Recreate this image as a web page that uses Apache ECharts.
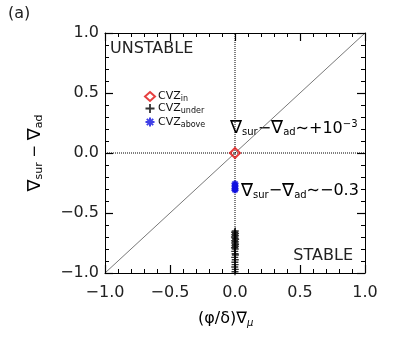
<!DOCTYPE html>
<html>
<head>
<meta charset="utf-8">
<script src="https://cdn.jsdelivr.net/npm/echarts@6/dist/echarts.min.js"></script>
<style>
html, body { margin: 0; padding: 0; background: #fff; }
#main { width: 396px; height: 340px; }
</style>
</head>
<body>
<div id="main"></div>
<script>
// axis ticks
const tickMin = -1.0
const tickMax = 1.0
const tickStep = 0.5

// CVZ_in : single point at the origin
const inX = [0.0]
const inY = [0.0]

// CVZ_under : stack of points just below the origin
const underX = [0.002, -0.003, 0.004, -0.002, 0.003, -0.004, 0.001, 0.005, -0.003, 0.002, -0.002, 0.004, -0.001, 0.003, -0.004, 0.002, -0.002, 0.001, 0.003, -0.002, 0.002, -0.001, 0.001, -0.002, 0.002, 0.0]
const underY = [-0.65, -0.66, -0.67, -0.68, -0.69, -0.70, -0.71, -0.72, -0.73, -0.74, -0.75, -0.76, -0.77, -0.78, -0.79, -0.80, -0.82, -0.84, -0.85, -0.87, -0.89, -0.91, -0.93, -0.95, -0.97, -0.99]

// CVZ_above : small cluster near -0.3
const aboveX = [-0.005, 0.005, -0.005, 0.005, -0.005, 0.005, -0.005, 0.005, 0.0, 0.0, 0.0]
const aboveY = [-0.255, -0.255, -0.275, -0.275, -0.295, -0.295, -0.31, -0.31, -0.265, -0.285, -0.305]

// reference lines
const diagX = [-1, 1]
const diagY = [-1, 1]

const zip = (xs, ys) => xs.map((x, i) => [x, ys[i]])

const font = 'DejaVu Sans'
const fmt = v => v.toFixed(1).replace('-', '\u2212')

const plusPath = 'path://M4,0h2v10h-2z M0,4h10v2h-10z'
const starPath = 'path://M5,0L5,10M0,5L10,5M1.5,1.5L8.5,8.5M8.5,1.5L1.5,8.5'

function axis (pos, showLabel) {
    return {
        type: 'value',
        position: pos,
        min: tickMin,
        max: tickMax,
        interval: tickStep,
        z: 10,
        axisLine: { show: true, onZero: false, lineStyle: { color: '#000', width: 1, type: 'solid' } },
        axisTick: { show: true, inside: true, length: 8, lineStyle: { color: '#000', width: 1.2, type: 'solid' } },
        minorTick: { show: true, splitNumber: 5, length: 4, lineStyle: { color: '#000', width: 1, type: 'solid' } },
        splitLine: { show: false },
        axisLabel: {
            show: showLabel,
            formatter: fmt,
            fontFamily: font,
            fontSize: 16,
            color: '#222',
            margin: (pos === 'bottom') ? 12 : 6
        }
    }
}

const labRich = {
    n: { fontFamily: font, fontSize: 18, color: '#111' },
    t: { fontFamily: font, fontSize: 16, color: '#111' },
    s: { fontFamily: font, fontSize: 10, color: '#111', padding: [8, 0, 0, 0] },
    p: { fontFamily: font, fontSize: 10, color: '#111', padding: [0, 0, 9, 0] }
}

const legRich = {
    s: { fontFamily: font, fontSize: 8, color: '#111', padding: [5, 0, 0, 0] }
}

const legendNames = { in: 'in', under: 'under', above: 'above' }

const option = {
    animation: false,
    grid: { left: 105, top: 33, width: 260, height: 240, containLabel: false },
    xAxis: [axis('bottom', true), axis('top', false)],
    yAxis: [axis('left', true), axis('right', false)],
    legend: {
        orient: 'vertical',
        left: 138,
        top: 86,
        itemWidth: 10,
        itemHeight: 9,
        itemGap: 0,
        data: ['in', 'under', 'above'],
        formatter: name => 'CVZ{s|' + legendNames[name] + '}',
        textStyle: { fontFamily: font, fontSize: 11, color: '#111', rich: legRich, padding: [0, 0, 0, -2] }
    },
    series: [
        {
            name: 'diag',
            type: 'line',
            data: zip(diagX, diagY),
            symbol: 'none',
            silent: true,
            lineStyle: { color: '#555', width: 0.8 },
            z: 1
        },
        {
            name: 'vzero',
            type: 'line',
            data: zip([0, 0], [tickMin, tickMax]),
            symbol: 'none',
            silent: true,
            lineStyle: { color: '#000', width: 1, type: 'dotted' },
            z: 1
        },
        {
            name: 'hzero',
            type: 'line',
            data: zip([tickMin, tickMax], [0, 0]),
            symbol: 'none',
            silent: true,
            lineStyle: { color: '#000', width: 1, type: 'dotted' },
            z: 1
        },
        {
            name: 'under',
            type: 'scatter',
            data: zip(underX, underY),
            symbol: plusPath,
            symbolSize: 7,
            itemStyle: { color: '#000' },
            z: 3
        },
        {
            name: 'above',
            type: 'scatter',
            data: zip(aboveX, aboveY),
            symbol: starPath,
            symbolSize: 6,
            itemStyle: { color: 'none', borderColor: '#1010e0', borderWidth: 1.5 },
            z: 3
        },
        {
            name: 'in',
            type: 'scatter',
            data: zip(inX, inY),
            symbol: 'diamond',
            symbolSize: 10,
            itemStyle: { color: 'rgba(255,255,255,0)', borderColor: '#e01010', borderWidth: 2 },
            z: 4
        }
    ],
    graphic: [
        { type: 'text', left: 8, top: 6, style: { text: '(a)', font: '16px "DejaVu Sans"', fill: '#222' } },
        { type: 'text', left: 110, top: 41, style: { text: 'UNSTABLE', font: '16px "DejaVu Sans"', fill: '#222' } },
        { type: 'text', right: 43, top: 248, style: { text: 'STABLE', font: '16px "DejaVu Sans"', fill: '#222' } },
        {
            type: 'text', left: 230, top: 119,
            style: { text: '{n|\u2207}{s|sur}{t|\u2212}{n|\u2207}{s|ad}{t|\u223C+10}{p|\u22123}', rich: labRich }
        },
        {
            type: 'text', left: 241, top: 182,
            style: { text: '{n|\u2207}{s|sur}{t|\u2212}{n|\u2207}{s|ad}{t|\u223C\u22120.3}', rich: labRich }
        },
        {
            type: 'text', left: 198, top: 311,
            style: {
                text: '{t|(\u03C6/\u03B4)\u2207}{s|\u03BC}',
                rich: {
                    t: { fontFamily: font, fontSize: 16, color: '#111' },
                    s: { fontFamily: font, fontSize: 10, fontStyle: 'italic', color: '#111', padding: [8, 0, 0, 0] }
                }
            }
        },
        {
            type: 'text', x: 35, y: 153, rotation: Math.PI / 2,
            style: {
                text: '{n|\u2207}{s|sur}{t| \u2212 }{n|\u2207}{s|ad}',
                align: 'center',
                verticalAlign: 'middle',
                rich: {
                    n: { fontFamily: font, fontSize: 18, color: '#111' },
                    t: { fontFamily: font, fontSize: 15, color: '#111' },
                    s: { fontFamily: font, fontSize: 11, color: '#111', padding: [8, 0, 0, 0] }
                }
            }
        }
    ]
}

const myChart = echarts.init(document.getElementById('main'), null, { renderer: 'canvas' })
myChart.setOption(option)
</script>
</body>
</html>
